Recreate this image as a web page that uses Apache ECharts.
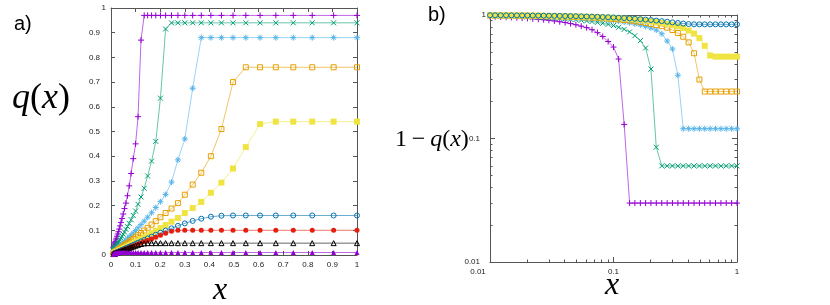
<!DOCTYPE html>
<html><head><meta charset="utf-8">
<script src="https://cdn.jsdelivr.net/npm/echarts@6/dist/echarts.min.js"></script>
<style>html,body{margin:0;padding:0;background:#fff}#c{width:830px;height:305px}</style>
</head><body><div id="c"></div>
<script>
// x grid (log spaced sample points)
const xs = [0.01,0.011,0.0122,0.0135,0.0149,0.0165,0.0182,0.0201,0.0222,0.0246,0.0272,0.03,0.0332,0.0367,0.0406,0.0449,0.0496,0.0548,0.0606,0.067,0.0741,0.0818,0.0905,0.1,0.11,0.122,0.135,0.149,0.165,0.182,0.201,0.222,0.246,0.272,0.3,0.332,0.367,0.406,0.449,0.496,0.548,0.606,0.67,0.741,0.818,0.905,1];
// q(x) series
const qPlus = [0.03,0.033,0.037,0.041,0.045,0.05,0.055,0.061,0.068,0.076,0.085,0.094,0.105,0.118,0.132,0.148,0.166,0.188,0.21,0.24,0.28,0.33,0.39,0.45,0.56,0.87,
  0.97,0.97,0.97,0.97,0.97,0.97,0.97,0.97,0.97,0.97,0.97,0.97,0.97,0.97,0.97,0.97,0.97,0.97,0.97,0.97,0.97];
const qCross = [0.017,0.019,0.021,0.023,0.025,0.028,0.031,0.034,0.038,0.042,0.046,0.051,0.056,0.062,0.069,0.076,0.084,0.093,0.104,0.115,0.128,0.143,0.16,0.178,0.205,0.235,0.27,0.32,0.38,0.46,0.635,0.915,
  0.94,0.94,0.94,0.94,0.94,0.94,0.94,0.94,0.94,0.94,0.94,0.94,0.94,0.94,0.94];
const qStar = [0.0095,0.0105,0.0116,0.0128,0.0142,0.0157,0.0173,0.019,0.021,0.023,0.026,0.029,0.032,0.035,0.039,0.043,0.048,0.053,0.059,0.065,0.072,0.08,0.089,0.099,0.11,0.123,0.137,0.153,0.171,0.192,0.216,0.245,0.295,0.385,0.47,0.675,
  0.88,0.88,0.88,0.88,0.88,0.88,0.88,0.88,0.88,0.88,0.88];
const qOpenSq = [0.0072,0.0079,0.0088,0.0097,0.0107,0.0118,0.013,0.0144,0.0159,0.0176,0.0195,0.0215,0.0238,0.0263,0.029,0.032,0.0355,0.039,0.0435,0.048,0.053,0.059,0.065,0.072,0.08,0.089,0.099,0.11,0.123,0.137,0.153,0.17,0.188,0.21,0.244,0.285,0.333,0.4,0.51,0.7,
  0.76,0.76,0.76,0.76,0.76,0.76,0.76];
const qFillSq = [0.0052,0.0057,0.0063,0.007,0.0077,0.0085,0.0094,0.0104,0.0115,0.0127,0.014,0.0155,0.0171,0.019,0.021,0.0232,0.0256,0.0283,0.0313,0.0346,0.0383,0.0423,0.0468,0.052,0.0575,0.064,0.071,0.079,0.088,0.098,0.109,0.121,0.135,0.15,0.17,0.19,0.215,0.252,0.293,0.35,0.437,0.53,
  0.54,0.54,0.54,0.54,0.54];
const qOpenCirc = [0.0045,0.005,0.0055,0.0061,0.0067,0.0074,0.0082,0.009,0.01,0.011,0.0122,0.0135,0.0149,0.0165,0.0183,0.0202,0.0223,0.0247,0.0272,0.0301,0.0333,0.0368,0.0406,0.045,0.0496,0.055,0.0605,0.067,0.074,0.082,0.09,0.099,0.108,0.118,0.128,0.138,0.147,0.155,0.159,
  0.16,0.16,0.16,0.16,0.16,0.16,0.16,0.16];
const qFillCirc = [0.004,0.0044,0.0049,0.0054,0.006,0.0066,0.0073,0.008,0.0089,0.0098,0.0109,0.012,0.0133,0.0147,0.0162,0.0179,0.0198,0.0219,0.0242,0.0268,0.0296,0.0327,0.036,0.04,0.044,0.0487,0.0537,0.059,0.065,0.072,0.08,0.088,0.096,
  0.1,0.1,0.1,0.1,0.1,0.1,0.1,0.1,0.1,0.1,0.1,0.1,0.1,0.1];
const qOpenTri = [0.0038,0.0042,0.0046,0.0051,0.0057,0.0063,0.0069,0.0076,0.0084,0.0093,0.0103,0.0114,0.0126,0.0139,0.0154,0.017,0.0188,0.0207,0.0229,0.0253,0.028,0.0308,0.034,0.0375,0.041,0.0445,0.047,
  0.048,0.048,0.048,0.048,0.048,0.048,0.048,0.048,0.048,0.048,0.048,0.048,0.048,0.048,0.048,0.048,0.048,0.048,0.048,0.048];
const qFillTri = [0.0034,0.0037,0.0041,0.0046,0.0051,0.0056,0.0062,0.0068,0.0075,0.0082,0.0089,0.0095,0.0099,
  0.01,0.01,0.01,0.01,0.01,0.01,0.01,0.01,0.01,0.01,0.01,0.01,0.01,0.01,0.01,0.01,0.01,0.01,0.01,0.01,0.01,0.01,0.01,0.01,0.01,0.01,0.01,0.01,0.01,0.01,0.01,0.01,0.01,0.01];
// tick values
const linTicks = [0,0.1,0.2,0.3,0.4,0.5,0.6,0.7,0.8,0.9,1];
const logMinor = [0.02,0.03,0.04,0.05,0.06,0.07,0.08,0.09,0.2,0.3,0.4,0.5,0.6,0.7,0.8,0.9];

const P = {
  plus:'path://M0,5L10,5M5,0L5,10',
  cross:'path://M0,0L10,10M10,0L0,10',
  star:'path://M0,5L10,5M5,0L5,10M1.5,1.5L8.5,8.5M8.5,1.5L1.5,8.5',
  sq:'path://M0,0L10,0L10,10L0,10Z',
  circ:'path://M5,0A5,5,0,1,1,4.99,0Z',
  tri:'path://M5,0L10,9L0,9Z'
};
const defs = [
  {q:qPlus, c:'#9400D3', s:P.plus, open:true, sz:6, inB:true},
  {q:qCross, c:'#009E73', s:P.cross, open:true, sz:5, inB:true},
  {q:qStar, c:'#56B4E9', s:P.star, open:true, sz:6, inB:true},
  {q:qOpenSq, c:'#E69F00', s:P.sq, open:true, sz:5, inB:true},
  {q:qFillSq, c:'#F0E442', s:'rect', open:false, sz:6, inB:true},
  {q:qOpenCirc, c:'#0072B2', s:P.circ, open:true, sz:5, inB:true},
  {q:qFillCirc, c:'#E51E10', s:'circle', open:false, sz:5, inB:false},
  {q:qOpenTri, c:'#000000', s:P.tri, open:true, sz:5, inB:false},
  {q:qFillTri, c:'#9400D3', s:'triangle', open:false, sz:5, inB:false}
];
function mk(d, xi, yi, data){
  return {
    type:'line', xAxisIndex:xi, yAxisIndex:yi, data:data, symbol:d.s, symbolSize:d.sz,
    clip:false, silent:true, animation:false, z:2,
    lineStyle:{color:d.c, width:1, opacity:0.6},
    itemStyle: d.open ? {color:'transparent', borderColor:d.c, borderWidth:1} : {color:d.c, borderWidth:0},
    emphasis:{disabled:true}
  };
}
const series = [];
defs.forEach(d => series.push(mk(d, 0, 0, xs.map((x,i)=>[x, d.q[i]]))));
defs.filter(d=>d.inB).forEach(d => series.push(mk(d, 2, 2, xs.map((x,i)=>[x, 1 - d.q[i]]))));

const AX = '#555';
const lblFont = {fontSize:8, color:'#222', fontFamily:'Liberation Sans'};
function fmtNum(v){ return String(+(+v).toPrecision(3)); }
function yFmt(v){ const s = fmtNum(v); return s.length > 1 ? '{p|' + s + '}' : s; }
function xbFmt(v){ const s = fmtNum(v); return s === '0.01' ? '{q|' + s + '}' : s; }
function base(extra){
  return Object.assign({
    axisLine:{show:true, onZero:false, lineStyle:{color:AX, width:1}},
    axisTick:{show:true, inside:true, length:4, lineStyle:{color:AX}},
    axisLabel:{show:false},
    splitLine:{show:false}, splitArea:{show:false}
  }, extra);
}
const linX = {type:'value', min:0, max:1, interval:0.1};
const logA = {type:'log', logBase:10, min:0.01, max:1};
const minorTick = {show:true, inside:true, length:2.5, customValues:logMinor, lineStyle:{color:AX}};
const richP = {p:{fontSize:8, color:'#222', fontFamily:'Liberation Sans', padding:[0,6,0,0]}};
const richQ = {q:{fontSize:8, color:'#222', fontFamily:'Liberation Sans', padding:[0,24,0,0]}};

const option = {
  animation:false,
  grid:[
    {left:111, top:8, width:246, height:247},
    {left:490, top:15, width:247, height:247},
    {left:490, top:15, width:247, height:247}
  ],
  xAxis:[
    base(Object.assign({gridIndex:0, position:'bottom',
      axisLabel:Object.assign({show:true, margin:6, formatter:fmtNum}, lblFont)}, linX)),
    base(Object.assign({gridIndex:0, position:'top'}, linX)),
    base(Object.assign({gridIndex:1, position:'bottom', axisTick:{show:true, inside:true, length:5, lineStyle:{color:AX}},
      axisLabel:Object.assign({show:true, margin:6, formatter:xbFmt, rich:richQ}, lblFont)}, logA)),
    base(Object.assign({gridIndex:1, position:'top', axisTick:{show:true, inside:true, length:5, lineStyle:{color:AX}}}, logA)),
    base(Object.assign({gridIndex:2, position:'bottom', axisLine:{show:false, onZero:false}, axisTick:minorTick}, logA)),
    base(Object.assign({gridIndex:2, position:'top', axisLine:{show:false, onZero:false}, axisTick:minorTick}, logA))
  ],
  yAxis:[
    base(Object.assign({gridIndex:0, position:'left',
      axisLabel:Object.assign({show:true, margin:5, formatter:yFmt, rich:richP}, lblFont)}, linX)),
    base(Object.assign({gridIndex:0, position:'right'}, linX)),
    base(Object.assign({gridIndex:1, position:'left', axisTick:{show:true, inside:true, length:5, lineStyle:{color:AX}},
      axisLabel:Object.assign({show:true, margin:4, formatter:yFmt, rich:richP}, lblFont)}, logA)),
    base(Object.assign({gridIndex:1, position:'right', axisTick:{show:true, inside:true, length:5, lineStyle:{color:AX}}}, logA)),
    base(Object.assign({gridIndex:2, position:'left', axisLine:{show:false, onZero:false}, axisTick:minorTick}, logA)),
    base(Object.assign({gridIndex:2, position:'right', axisLine:{show:false, onZero:false}, axisTick:minorTick}, logA))
  ],
  graphic:[
    {type:'text', z:-1, left:14, top:14, style:{text:'a)', font:'20px "Liberation Sans"', fill:'#000'}},
    {type:'text', z:-1, left:428, top:5, style:{text:'b)', font:'20px "Liberation Sans"', fill:'#000'}},
    {type:'text', z:-1, left:12, top:81, style:{text:'{i|q}{r|(}{i|x}{r|)}', rich:{
      i:{font:'italic 36px "Liberation Serif"', fill:'#000'}, r:{font:'36px "Liberation Serif"', fill:'#000'}}}},
    {type:'text', z:-1, left:395, top:128, style:{text:'{r|1\u2009−\u2009}{i|q}{r|(}{i|x}{r|)}', rich:{
      i:{font:'italic 24px "Liberation Serif"', fill:'#000'}, r:{font:'24px "Liberation Serif"', fill:'#000'}}}},
    {type:'text', z:-1, left:213, top:275, style:{text:'x', font:'italic 32px "Liberation Serif"', fill:'#000'}},
    {type:'text', z:-1, left:605, top:270, style:{text:'x', font:'italic 32px "Liberation Serif"', fill:'#000'}}
  ],
  series:series
};
echarts.init(document.getElementById('c'), null, {renderer:'canvas'}).setOption(option);
</script></body></html>
